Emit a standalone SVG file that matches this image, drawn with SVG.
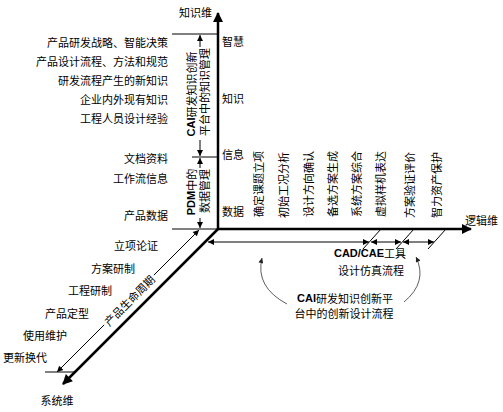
<svg xmlns="http://www.w3.org/2000/svg" width="503" height="412" viewBox="0 0 503 412">
<style>
text{font-family:"Noto Sans CJK SC","Liberation Sans",sans-serif;font-size:11px;fill:#000;dominant-baseline:central}
.b{font-family:"Liberation Sans",Arial,sans-serif;font-weight:bold}
.thick{stroke:#000;stroke-width:2.5;fill:none}
.thin{stroke:#000;stroke-width:1;fill:none}
.curve{stroke:#333;stroke-width:0.8;fill:none}
</style>
<defs>
<marker id="big" viewBox="0 0 10 10" refX="9" refY="5" markerWidth="13" markerHeight="10" orient="auto" markerUnits="userSpaceOnUse"><path d="M0,0 L10,5 L0,10 z" fill="#000"/></marker>
<marker id="sm" viewBox="0 0 10 10" refX="10" refY="5" markerWidth="8" markerHeight="6" orient="auto-start-reverse" markerUnits="userSpaceOnUse"><path d="M0,0 L10,5 L0,10 z" fill="#000"/></marker>
<marker id="cv" viewBox="0 0 10 10" refX="10" refY="5" markerWidth="7" markerHeight="5" orient="auto" markerUnits="userSpaceOnUse"><path d="M0,0 L10,5 L0,10 z" fill="#222"/></marker>
</defs>

<g id="connectors">
  <!-- axes -->
  <line class="thick" x1="218" y1="230" x2="218" y2="13" marker-end="url(#big)"/>
  <line class="thick" x1="217" y1="229" x2="471" y2="229" marker-end="url(#big)"/>
  <line class="thick" x1="218" y1="229" x2="63" y2="384" marker-end="url(#big)"/>
  <!-- guide lines -->
  <line class="thin" x1="172" y1="34" x2="218" y2="34"/>
  <line class="thin" x1="192" y1="157" x2="218" y2="157"/>
  <line class="thin" x1="172" y1="229" x2="218" y2="229"/>
  <line class="thin" x1="45" y1="372" x2="76" y2="372"/>
  <!-- knowledge management arrows -->
  <line class="thin" x1="200" y1="47" x2="200" y2="35" marker-end="url(#sm)"/>
  <line class="thin" x1="200" y1="140" x2="200" y2="156" marker-end="url(#sm)"/>
  <line class="thin" x1="200" y1="168" x2="200" y2="158" marker-end="url(#sm)"/>
  <line class="thin" x1="200" y1="218" x2="200" y2="228" marker-end="url(#sm)"/>
  <!-- product lifecycle -->
  <line class="thin" x1="199" y1="230" x2="57" y2="372" marker-start="url(#sm)" marker-end="url(#sm)"/>
  <!-- design process arrows -->
  <line class="thin" x1="208" y1="242" x2="369" y2="242" marker-start="url(#sm)" marker-end="url(#sm)"/>
  <line class="thin" x1="371" y1="242" x2="401" y2="242" marker-start="url(#sm)" marker-end="url(#sm)"/>
  <line class="thin" x1="403" y1="242" x2="434" y2="242" marker-start="url(#sm)" marker-end="url(#sm)"/>
  <line class="thin" x1="363" y1="249" x2="381" y2="229"/>
  <line class="thin" x1="396" y1="249" x2="414" y2="229"/>
  <line class="thin" x1="428" y1="249" x2="446" y2="229"/>
  <!-- curved arrows -->
  <path class="curve" d="M287,304 Q255,287 262,258" marker-end="url(#cv)"/>
  <path class="curve" d="M404,302 Q428,282 416,257" marker-end="url(#cv)"/>
</g>

<g id="axis-labels">
  <text x="212" y="12" text-anchor="end">知识维</text>
  <text x="465" y="220">逻辑维</text>
  <text x="57" y="400" text-anchor="middle">系统维</text>
</g>

<g id="knowledge-levels">
  <text x="222" y="41">智慧</text>
  <text x="222" y="98">知识</text>
  <text x="222" y="154">信息</text>
  <text x="222" y="211">数据</text>
</g>

<g id="knowledge-items">
  <text x="168" y="42" text-anchor="end">产品研发战略、智能决策</text>
  <text x="168" y="61" text-anchor="end">产品设计流程、方法和规范</text>
  <text x="168" y="80" text-anchor="end">研发流程产生的新知识</text>
  <text x="168" y="99" text-anchor="end">企业内外现有知识</text>
  <text x="168" y="118" text-anchor="end">工程人员设计经验</text>
  <text x="168" y="158" text-anchor="end">文档资料</text>
  <text x="168" y="178" text-anchor="end">工作流信息</text>
  <text x="168" y="215" text-anchor="end">产品数据</text>
</g>

<g id="cai-km">
  <text transform="translate(191,94) rotate(-90)" text-anchor="middle"><tspan class="b">CAI</tspan>研发知识创新</text>
  <text transform="translate(204,92) rotate(-90)" text-anchor="middle">平台中的知识管理</text>
</g>

<g id="pdm">
  <text transform="translate(191,192) rotate(-90)" text-anchor="middle"><tspan class="b">PDM</tspan>中的</text>
  <text transform="translate(204,191) rotate(-90)" text-anchor="middle">数据管理</text>
</g>

<g id="lifecycle">
  <text x="158" y="245" text-anchor="end">立项论证</text>
  <text x="135" y="268" text-anchor="end">方案研制</text>
  <text x="112" y="290" text-anchor="end">工程研制</text>
  <text x="89" y="313" text-anchor="end">产品定型</text>
  <text x="67" y="335" text-anchor="end">使用维护</text>
  <text x="47" y="357" text-anchor="end">更新换代</text>
  <g transform="translate(129,300) rotate(-45)">
    <rect x="-35" y="-6" width="70" height="12" fill="#fff"/>
    <text x="0" y="0" text-anchor="middle">产品生命周期</text>
  </g>
</g>

<g id="logic-steps">
  <text transform="translate(258,184) rotate(-90)" text-anchor="middle">确定课题立项</text>
  <text transform="translate(283,185) rotate(-90)" text-anchor="middle">初始工况分析</text>
  <text transform="translate(308,184) rotate(-90)" text-anchor="middle">设计方向确认</text>
  <text transform="translate(332,184) rotate(-90)" text-anchor="middle">备选方案生成</text>
  <text transform="translate(356,184) rotate(-90)" text-anchor="middle">系统方案综合</text>
  <text transform="translate(380,184) rotate(-90)" text-anchor="middle">虚拟样机表达</text>
  <text transform="translate(409,185) rotate(-90)" text-anchor="middle">方案验证评价</text>
  <text transform="translate(436,185) rotate(-90)" text-anchor="middle">智力资产保护</text>
</g>

<g id="cad-cae">
  <text x="370" y="253" text-anchor="middle"><tspan class="b">CAD/CAE</tspan>工具</text>
  <text x="371" y="270" text-anchor="middle">设计仿真流程</text>
</g>

<g id="cai-design">
  <text x="345" y="298" text-anchor="middle"><tspan class="b">CAI</tspan>研发知识创新平</text>
  <text x="344" y="313" text-anchor="middle">台中的创新设计流程</text>
</g>
</svg>
